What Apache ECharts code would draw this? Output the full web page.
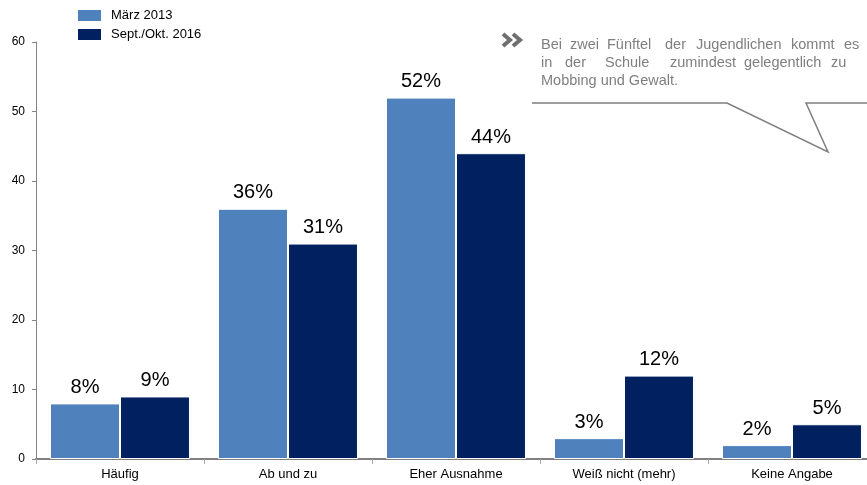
<!DOCTYPE html>
<html>
<head>
<meta charset="utf-8">
<script src="https://cdn.jsdelivr.net/npm/echarts@6/dist/echarts.min.js"></script>
<style>
  html, body { margin: 0; padding: 0; background: #ffffff; }
  #chart { width: 867px; height: 485px; }
</style>
</head>
<body>
<div id="chart"></div>
<script>
// Categories and series values
const categories = ['Häufig', 'Ab und zu', 'Eher Ausnahme', 'Weiß nicht (mehr)', 'Keine Angabe'];
const seriesNames = ['März 2013', 'Sept./Okt. 2016'];
const maerz2013 = [8, 36, 52, 3, 2];
const sept2016 = [9, 31, 44, 12, 5];
const yTicks = [0, 10, 20, 30, 40, 50, 60];

// Callout text, one array of words per line
const calloutLine1 = ['Bei', 'zwei', 'Fünftel', 'der', 'Jugendlichen', 'kommt', 'es'];
const calloutLine2 = ['in', 'der', 'Schule', 'zumindest', 'gelegentlich', 'zu'];
const calloutLine3 = 'Mobbing und Gewalt.';

const FONT = "'Liberation Sans', Arial, sans-serif";
const GREY = '#7f7f7f';

const chart = echarts.init(document.getElementById('chart'), null, { renderer: 'canvas' });

// Justified word placement for the first two callout lines
const line1X = [541, 570, 607, 665, 696, 791, 844];
const line2X = [541, 565, 605, 670, 744, 831];
function wordTexts(words, xs, y) {
  return words.map((w, i) => ({
    type: 'text',
    left: xs[i],
    top: y,
    style: { text: w, font: '14.5px ' + FONT, fill: GREY }
  }));
}

const barLabel = {
  show: true,
  position: 'top',
  distance: 6,
  formatter: '{c}%',
  fontFamily: FONT,
  fontSize: 20,
  color: '#000000'
};

chart.setOption({
  animation: false,
  textStyle: { fontFamily: FONT },
  legend: {
    orient: 'vertical',
    left: 76,
    top: 8,
    padding: 0,
    itemWidth: 25,
    itemHeight: 13,
    itemGap: 4,
    icon: 'rect',
    textStyle: { fontFamily: FONT, fontSize: 13, color: '#000000', padding: [0, 0, 0, 4] },
    data: seriesNames
  },
  // the plot area runs a little past the right edge of the canvas
  grid: { left: 36, width: 840, top: 42, bottom: 26, containLabel: false, outerBoundsMode: 'none' },
  xAxis: {
    type: 'category',
    data: categories,
    axisLine: { lineStyle: { color: '#808080', width: 2 } },
    axisTick: { show: true, length: 5, lineStyle: { color: '#a6a6a6', width: 1 } },
    axisLabel: { fontFamily: FONT, fontSize: 13, color: '#000000', margin: 9 },
    splitLine: { show: false }
  },
  yAxis: {
    type: 'value',
    min: yTicks[0],
    max: yTicks[yTicks.length - 1],
    interval: 10,
    axisLine: { show: true, lineStyle: { color: '#868686', width: 1 } },
    axisTick: { show: true, length: 4, lineStyle: { color: '#868686' } },
    axisLabel: { fontFamily: FONT, fontSize: 12, color: '#000000', margin: 11 },
    splitLine: { show: false }
  },
  series: [
    {
      name: seriesNames[0],
      type: 'bar',
      data: maerz2013,
      barGap: '0%',
      barCategoryGap: '16.7%',
      itemStyle: { color: '#4f81bd', borderColor: '#ffffff', borderWidth: 1 },
      label: barLabel
    },
    {
      name: seriesNames[1],
      type: 'bar',
      data: sept2016,
      itemStyle: { color: '#002060', borderColor: '#ffffff', borderWidth: 1 },
      label: barLabel
    }
  ],
  graphic: [
    // double chevron bullet
    {
      type: 'polyline',
      shape: { points: [[503, 34], [510, 40], [503, 46]] },
      style: { stroke: '#6f6f6f', lineWidth: 4, fill: null, lineJoin: 'miter' }
    },
    {
      type: 'polyline',
      shape: { points: [[513, 34], [520, 40], [513, 46]] },
      style: { stroke: '#6f6f6f', lineWidth: 4, fill: null, lineJoin: 'miter' }
    },
    ...wordTexts(calloutLine1, line1X, 37),
    ...wordTexts(calloutLine2, line2X, 55),
    {
      type: 'text',
      left: 541,
      top: 73,
      style: { text: calloutLine3, font: '14.5px ' + FONT, fill: GREY }
    },
    // speech bubble outline
    {
      type: 'polyline',
      shape: { points: [[532, 103], [727, 103], [828, 152], [806, 103], [870, 103]] },
      style: { stroke: GREY, lineWidth: 1.5, fill: null }
    }
  ]
});
</script>
</body>
</html>
